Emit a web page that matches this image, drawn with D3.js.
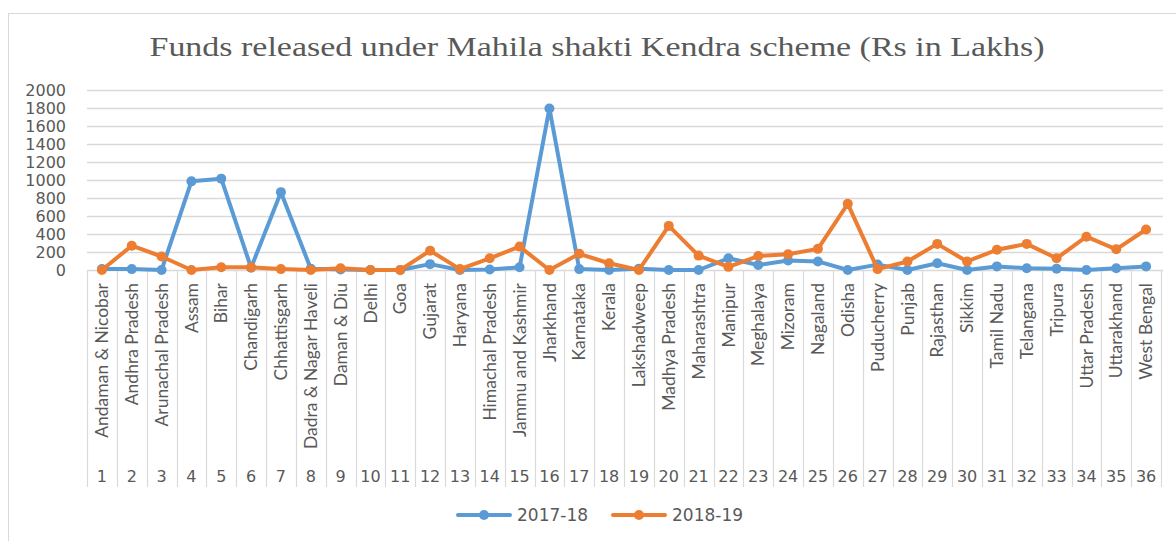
<!DOCTYPE html>
<html>
<head>
<meta charset="utf-8">
<script src="https://cdn.jsdelivr.net/npm/d3@7"></script>
<style>
  body { margin: 0; background: #fff; }
  svg { display: block; }
</style>
</head>
<body>
<svg width="1176" height="541"></svg>
<script>
var states = ["Andaman & Nicobar", "Andhra Pradesh", "Arunachal Pradesh", "Assam", "Bihar",
    "Chandigarh", "Chhattisgarh", "Dadra & Nagar Haveli", "Daman & Diu", "Delhi", "Goa",
    "Gujarat", "Haryana", "Himachal Pradesh", "Jammu and Kashmir", "Jharkhand", "Karnataka",
    "Kerala", "Lakshadweep", "Madhya Pradesh", "Maharashtra", "Manipur", "Meghalaya",
    "Mizoram", "Nagaland", "Odisha", "Puducherry", "Punjab", "Rajasthan", "Sikkim",
    "Tamil Nadu", "Telangana", "Tripura", "Uttar Pradesh", "Uttarakhand", "West Bengal"];

var funds1718 = [10, 10, 0, 985, 1015, 25, 865, 15, 5, 0, 0, 65, 0, 5, 30, 1795, 10, 0,
    15, 0, 0, 130, 55, 105, 95, 0, 60, 0, 75, 0, 40, 20, 15, 0, 20, 40];
var funds1819 = [0, 270, 150, 0, 30, 30, 10, 0, 20, 0, 0, 215, 10, 130, 260, 0, 180, 75,
    0, 490, 160, 35, 155, 175, 235, 735, 10, 95, 290, 95, 225, 290, 130, 370, 230, 450];

var seriesNames = ["2017-18", "2018-19"];
var yTicks = [0, 200, 400, 600, 800, 1000, 1200, 1400, 1600, 1800, 2000];
var title = "Funds released under Mahila shakti Kendra scheme (Rs in Lakhs)";

var colors = ["#5b9bd5", "#ed7d31"];
var textColor = "#595959";
var gridColor = "#d9d9d9";

var svg = d3.select("svg");

// chart border
svg.append("rect")
    .attr("x", 8.5).attr("y", 13.5)
    .attr("width", 1200).attr("height", 600)
    .attr("fill", "none").attr("stroke", gridColor);

svg.append("text")
    .attr("x", 597).attr("y", 56)
    .attr("text-anchor", "middle")
    .attr("font-family", "Liberation Serif")
    .attr("font-size", 27)
    .attr("fill", textColor)
    .attr("textLength", 895)
    .attr("lengthAdjust", "spacingAndGlyphs")
    .text(title);

var plotLeft = 87, plotRight = 1161, plotTop = 90, plotBottom = 270, sepBottom = 487;

var x = d3.scalePoint()
    .domain(d3.range(states.length))
    .range([plotLeft, plotRight])
    .padding(0.5);
var step = x.step();

var y = d3.scaleLinear()
    .domain([0, 2000])
    .range([plotBottom, plotTop]);

// gridlines
svg.append("g")
    .selectAll("line")
    .data(yTicks)
    .enter().append("line")
    .attr("x1", plotLeft).attr("x2", plotRight + 2)
    .attr("y1", d => Math.round(y(d)) + 0.5)
    .attr("y2", d => Math.round(y(d)) + 0.5)
    .attr("stroke", gridColor)
    .attr("stroke-width", 1.5);

// y labels
svg.append("g")
    .selectAll("text")
    .data(yTicks)
    .enter().append("text")
    .attr("x", 66)
    .attr("y", d => y(d))
    .attr("dy", "0.36em")
    .attr("text-anchor", "end")
    .attr("font-family", "DejaVu Sans")
    .attr("font-size", 16)
    .attr("fill", textColor)
    .text(d => d);

// category separators
var bounds = d3.range(states.length + 1).map(i => plotLeft + i * step);
svg.append("g")
    .selectAll("line")
    .data(bounds)
    .enter().append("line")
    .attr("x1", d => Math.round(d) + 0.5).attr("x2", d => Math.round(d) + 0.5)
    .attr("y1", plotBottom).attr("y2", sepBottom)
    .attr("stroke", gridColor)
    .attr("stroke-width", 1.2);

// state names (rotated)
svg.append("g")
    .selectAll("text")
    .data(states)
    .enter().append("text")
    .attr("transform", (d, i) => `translate(${x(i)},283) rotate(-90)`)
    .attr("dy", "0.35em")
    .attr("text-anchor", "end")
    .attr("font-family", "Lato")
    .attr("font-size", 17.5)
    .attr("fill", textColor)
    .text(d => d);

// serial numbers
svg.append("g")
    .selectAll("text")
    .data(states)
    .enter().append("text")
    .attr("x", (d, i) => x(i))
    .attr("y", 482)
    .attr("text-anchor", "middle")
    .attr("font-family", "DejaVu Sans")
    .attr("font-size", 16)
    .attr("fill", textColor)
    .text((d, i) => i + 1);

// series
var line = d3.line()
    .x((d, i) => x(i))
    .y(d => y(d));

[funds1718, funds1819].forEach(function (vals, k) {
    var g = svg.append("g");
    g.append("path")
        .attr("d", line(vals))
        .attr("fill", "none")
        .attr("stroke", colors[k])
        .attr("stroke-width", 4)
        .attr("stroke-linejoin", "round");
    g.selectAll("circle")
        .data(vals)
        .enter().append("circle")
        .attr("cx", (d, i) => x(i))
        .attr("cy", d => y(d))
        .attr("r", 5)
        .attr("fill", colors[k]);
});

// legend
var legendX = [458, 613];
var legend = svg.append("g")
    .selectAll("g")
    .data(seriesNames)
    .enter().append("g")
    .attr("transform", (d, i) => `translate(${legendX[i]},515)`);
legend.append("line")
    .attr("x1", 0).attr("x2", 52)
    .attr("stroke", (d, i) => colors[i])
    .attr("stroke-width", 4)
    .attr("stroke-linecap", "round");
legend.append("circle")
    .attr("cx", 26).attr("r", 5)
    .attr("fill", (d, i) => colors[i]);
legend.append("text")
    .attr("x", 59).attr("dy", "0.36em")
    .attr("font-family", "DejaVu Sans")
    .attr("font-size", 17)
    .attr("fill", textColor)
    .text(d => d);
</script>
</body>
</html>
